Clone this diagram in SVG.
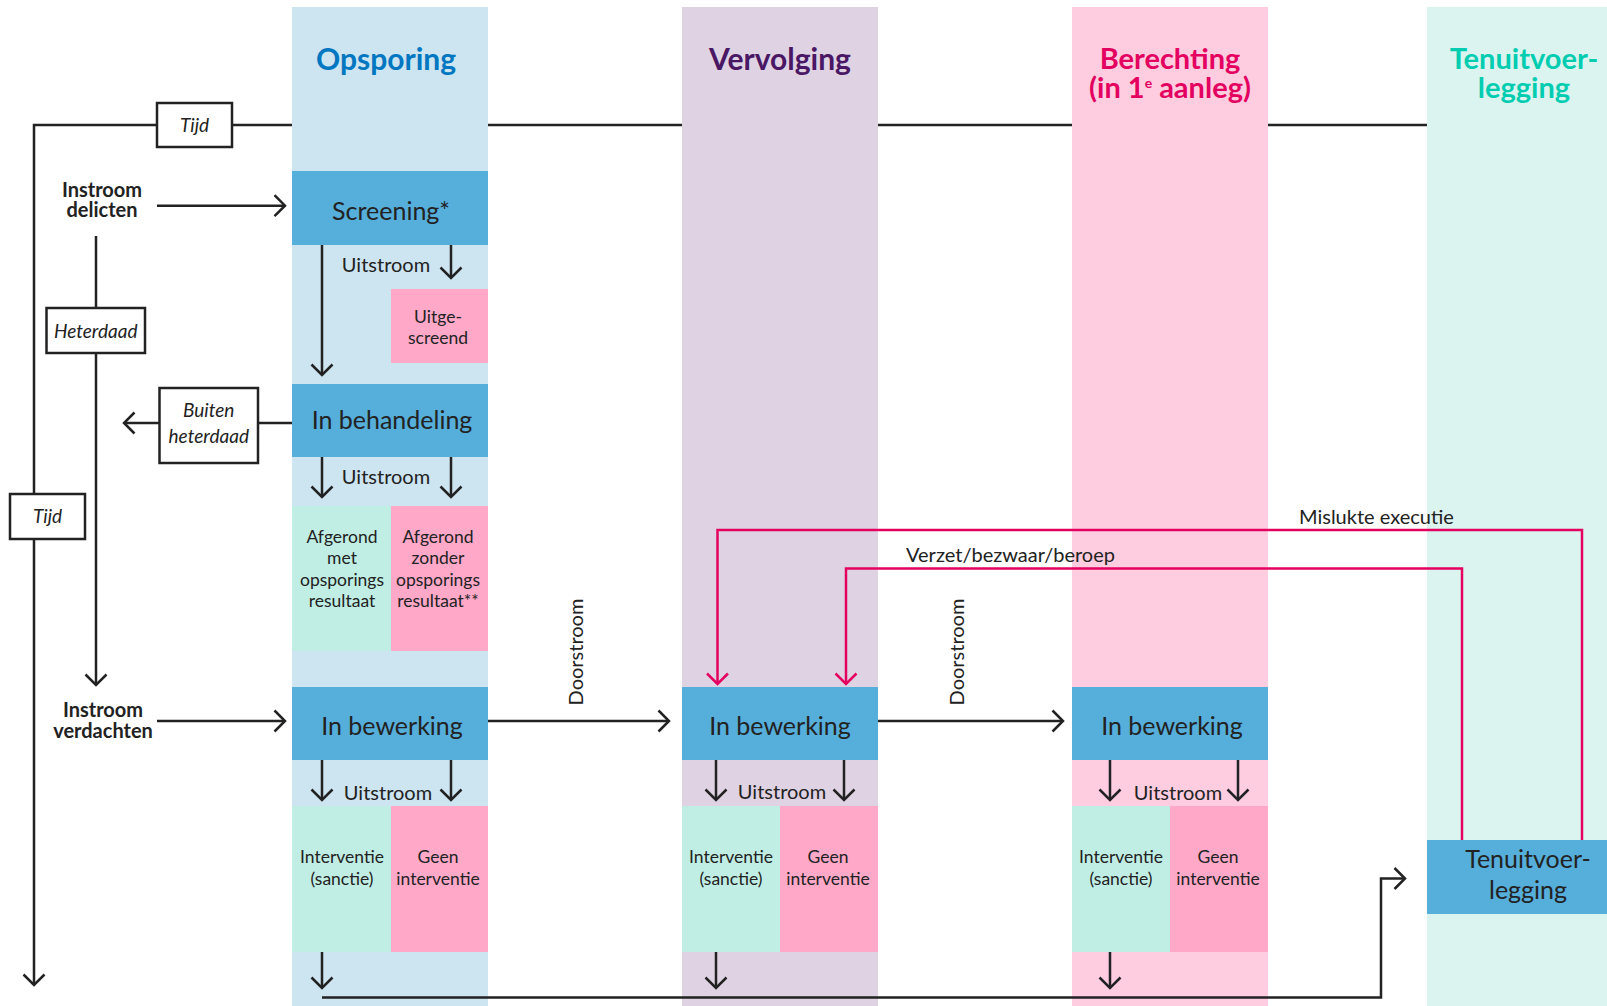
<svg xmlns="http://www.w3.org/2000/svg" width="1607" height="1006" viewBox="0 0 1607 1006">
<defs>
<style>
text{font-family:Lato,"Noto Sans","Liberation Sans",sans-serif;fill:#222}
.title{font-size:29px;font-weight:700;text-anchor:middle}
.box{font-size:25px;text-anchor:middle}
.lbl{font-size:20px;text-anchor:middle}
.cell{font-size:17.5px;text-anchor:middle}
.it{font-size:19px;font-style:italic;text-anchor:middle}
.bold{font-size:20px;font-weight:700;text-anchor:middle}
.ln{fill:none;stroke:#222;stroke-width:2.5}
.red{fill:none;stroke:#e3005f;stroke-width:2.5}
.frame{fill:#fff;stroke:#222;stroke-width:2.5}
.blue{fill:#56aedb}
.green{fill:#c0eee4}
.pink{fill:#ffa8c8}
</style>
<marker id="ah" markerUnits="userSpaceOnUse" markerWidth="30" markerHeight="30" viewBox="-15 -15 30 30" refX="0" refY="0" orient="auto">
<path d="M-10.5,-10.5 L0,0 L-10.5,10.5" fill="none" stroke="#222" stroke-width="2.5"/>
</marker>
<marker id="ahr" markerUnits="userSpaceOnUse" markerWidth="30" markerHeight="30" viewBox="-15 -15 30 30" refX="0" refY="0" orient="auto">
<path d="M-10.5,-10.5 L0,0 L-10.5,10.5" fill="none" stroke="#e3005f" stroke-width="2.5"/>
</marker>
</defs>
<rect width="1607" height="1006" fill="#fff"/>

<g id="columns">
<rect x="292" y="7" width="196" height="999" fill="#cde4f1"/>
<rect x="682" y="7" width="196" height="999" fill="#dfd3e3"/>
<rect x="1072" y="7" width="196" height="999" fill="#ffcddf"/>
<rect x="1427" y="7" width="180" height="999" fill="#dcf4f0"/>
<text class="title" x="386" y="70" style="fill:#0077c0;font-size:30px">Opsporing</text>
<text class="title" x="780" y="70" style="fill:#4a1764;font-size:30px">Vervolging</text>
<text class="title" x="1170" y="69" style="fill:#e3005f">Berechting<tspan x="1170" dy="29">(in 1</tspan><tspan font-size="14" dy="-10">e</tspan><tspan dy="10"> aanleg)</tspan></text>
<text class="title" x="1524" y="69" style="fill:#00cdb0">Tenuitvoer-<tspan x="1524" dy="29">legging</tspan></text>
</g>

<g id="connectors">
<path class="ln" d="M157,125 H34 V985" marker-end="url(#ah)"/>
<path class="ln" d="M232,125 H292 M488,125 H682 M878,125 H1072 M1268,125 H1427"/>
<path class="ln" d="M157,205.7 H285" marker-end="url(#ah)"/>
<path class="ln" d="M96,236 V685" marker-end="url(#ah)"/>
<path class="ln" d="M292,423 H258 M159.5,423 H124" marker-end="url(#ah)"/>
<path class="ln" d="M157,721 H285" marker-end="url(#ah)"/>
<path class="ln" d="M322,245 V375" marker-end="url(#ah)"/>
<path class="ln" d="M451,245 V278" marker-end="url(#ah)"/>
<path class="ln" d="M322,457 V497" marker-end="url(#ah)"/>
<path class="ln" d="M451,457 V497" marker-end="url(#ah)"/>
<path class="ln" d="M322,760 V800" marker-end="url(#ah)"/>
<path class="ln" d="M451,760 V800" marker-end="url(#ah)"/>
<path class="ln" d="M716,760 V800" marker-end="url(#ah)"/>
<path class="ln" d="M844,760 V800" marker-end="url(#ah)"/>
<path class="ln" d="M1110,760 V800" marker-end="url(#ah)"/>
<path class="ln" d="M1238,760 V800" marker-end="url(#ah)"/>
<path class="ln" d="M322,952 V988" marker-end="url(#ah)"/>
<path class="ln" d="M716,952 V988" marker-end="url(#ah)"/>
<path class="ln" d="M1110,952 V988" marker-end="url(#ah)"/>
<path class="ln" d="M322,997.5 H1381 V878.5 H1405" marker-end="url(#ah)"/>
<path class="ln" d="M488,721 H669" marker-end="url(#ah)"/>
<path class="ln" d="M878,721 H1063" marker-end="url(#ah)"/>
<path class="red" d="M1582,840 V530 H717.5 V684" marker-end="url(#ahr)"/>
<path class="red" d="M1462,840 V568.5 H846 V684" marker-end="url(#ahr)"/>
<text class="lbl" x="386" y="272">Uitstroom</text>
<text class="lbl" x="386" y="484">Uitstroom</text>
<text class="lbl" x="388" y="800">Uitstroom</text>
<text class="lbl" x="782" y="799">Uitstroom</text>
<text class="lbl" x="1178" y="800">Uitstroom</text>
<text class="lbl" x="583" y="652" transform="rotate(-90 583 652)">Doorstroom</text>
<text class="lbl" x="964" y="652" transform="rotate(-90 964 652)">Doorstroom</text>
<text class="lbl" x="1299" y="524" style="text-anchor:start">Mislukte executie</text>
<text class="lbl" x="906" y="562" style="text-anchor:start">Verzet/bezwaar/beroep</text>
</g>

<g id="tijd-top">
<rect class="frame" x="157" y="103" width="75" height="44"/>
<text class="it" x="194.5" y="132">Tijd</text>
</g>
<g id="tijd-left">
<rect class="frame" x="10" y="494" width="75" height="45"/>
<text class="it" x="47.5" y="523">Tijd</text>
</g>
<g id="heterdaad">
<rect class="frame" x="46.5" y="308" width="98.5" height="45"/>
<text class="it" x="95.75" y="338">Heterdaad</text>
</g>
<g id="buiten-heterdaad">
<rect class="frame" x="159.5" y="388" width="98.5" height="75"/>
<text class="it" x="208.75" y="417">Buiten<tspan x="208.75" dy="26">heterdaad</tspan></text>
</g>
<g id="instroom-delicten">
<text class="bold" x="102" y="197">Instroom<tspan x="102" dy="20">delicten</tspan></text>
</g>
<g id="instroom-verdachten">
<text class="bold" x="103" y="717">Instroom<tspan x="103" dy="21">verdachten</tspan></text>
</g>

<g id="screening">
<rect class="blue" x="292" y="171" width="196" height="74"/>
<text class="box" x="391" y="220">Screening*</text>
</g>
<g id="uitgescreend">
<rect class="pink" x="391" y="289" width="97" height="74"/>
<text class="cell" x="438" y="323">Uitge-<tspan x="438" dy="21">screend</tspan></text>
</g>
<g id="in-behandeling">
<rect class="blue" x="292" y="384" width="196" height="73"/>
<text class="box" x="392" y="429">In behandeling</text>
</g>
<g id="afgerond-met">
<rect class="green" x="292" y="506" width="99" height="145"/>
<text class="cell" x="342" y="542.5">Afgerond<tspan x="342" dy="21.5">met</tspan><tspan x="342" dy="21.5">opsporings</tspan><tspan x="342" dy="21.5">resultaat</tspan></text>
</g>
<g id="afgerond-zonder">
<rect class="pink" x="391" y="506" width="97" height="145"/>
<text class="cell" x="438" y="542.5">Afgerond<tspan x="438" dy="21.5">zonder</tspan><tspan x="438" dy="21.5">opsporings</tspan><tspan x="438" dy="21.5">resultaat**</tspan></text>
</g>
<g id="opsporing-bewerking">
<rect class="blue" x="292" y="687" width="196" height="73"/>
<text class="box" x="392" y="735">In bewerking</text>
</g>
<g id="opsporing-interventie">
<rect class="green" x="292" y="806" width="99" height="146"/>
<text class="cell" x="342" y="863">Interventie<tspan x="342" dy="22">(sanctie)</tspan></text>
</g>
<g id="opsporing-geen">
<rect class="pink" x="391" y="806" width="97" height="146"/>
<text class="cell" x="438" y="863">Geen<tspan x="438" dy="22">interventie</tspan></text>
</g>

<g id="vervolging-bewerking">
<rect class="blue" x="682" y="687" width="196" height="73"/>
<text class="box" x="780" y="735">In bewerking</text>
</g>
<g id="vervolging-interventie">
<rect class="green" x="682" y="806" width="98" height="146"/>
<text class="cell" x="731" y="863">Interventie<tspan x="731" dy="22">(sanctie)</tspan></text>
</g>
<g id="vervolging-geen">
<rect class="pink" x="780" y="806" width="98" height="146"/>
<text class="cell" x="828" y="863">Geen<tspan x="828" dy="22">interventie</tspan></text>
</g>

<g id="berechting-bewerking">
<rect class="blue" x="1072" y="687" width="196" height="73"/>
<text class="box" x="1172" y="735">In bewerking</text>
</g>
<g id="berechting-interventie">
<rect class="green" x="1072" y="806" width="98" height="146"/>
<text class="cell" x="1121" y="863">Interventie<tspan x="1121" dy="22">(sanctie)</tspan></text>
</g>
<g id="berechting-geen">
<rect class="pink" x="1170" y="806" width="98" height="146"/>
<text class="cell" x="1218" y="863">Geen<tspan x="1218" dy="22">interventie</tspan></text>
</g>

<g id="tenuitvoerlegging">
<rect class="blue" x="1427" y="840" width="180" height="74"/>
<text class="box" x="1528" y="868">Tenuitvoer-<tspan x="1528" dy="31">legging</tspan></text>
</g>
</svg>
